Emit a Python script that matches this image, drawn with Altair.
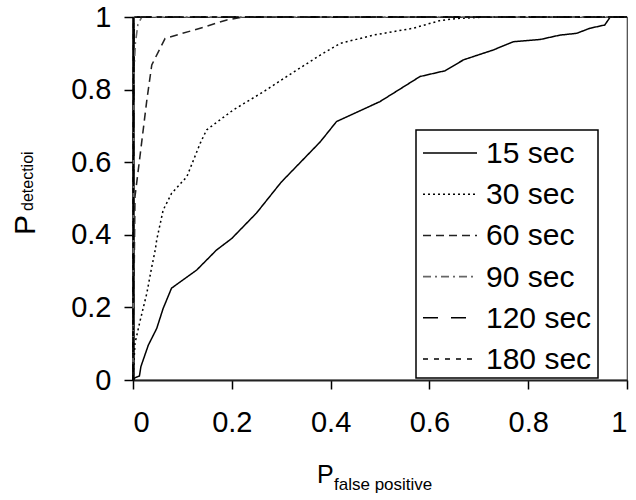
import altair as alt
import pandas as pd

# ROC curves: detection probability vs false-positive probability per window length
series_names = ["15 sec", "30 sec", "60 sec", "90 sec", "120 sec", "180 sec"]

x_15 = [0, 0.004, 0.013, 0.016, 0.031, 0.048, 0.061, 0.078, 0.129, 0.169, 0.20, 0.25, 0.30,
        0.379, 0.412, 0.50, 0.581, 0.632, 0.669, 0.729, 0.770, 0.824, 0.864, 0.898, 0.925,
        0.955, 0.966, 1.0]
y_15 = [0, 0.006, 0.011, 0.037, 0.096, 0.142, 0.197, 0.253, 0.303, 0.358, 0.39, 0.46, 0.545,
        0.656, 0.712, 0.767, 0.836, 0.852, 0.882, 0.909, 0.932, 0.938, 0.950, 0.955, 0.969,
        0.978, 1.0, 1.0]

x_30 = [0, 0.004, 0.014, 0.028, 0.038, 0.045, 0.048, 0.061, 0.078, 0.109, 0.136, 0.149, 0.203,
        0.264, 0.311, 0.379, 0.419, 0.486, 0.567, 0.621, 0.655, 0.716, 1.0]
y_30 = [0, 0.101, 0.161, 0.239, 0.312, 0.358, 0.386, 0.468, 0.514, 0.560, 0.652, 0.689, 0.744,
        0.794, 0.836, 0.895, 0.927, 0.950, 0.969, 0.990, 0.996, 1.0, 1.0]

x_60 = [0, 0.002, 0.004, 0.014, 0.028, 0.038, 0.065, 0.136, 0.190, 0.223, 1.0]
y_60 = [0, 0.25, 0.505, 0.615, 0.771, 0.868, 0.941, 0.969, 0.992, 1.0, 1.0]

x_90 = [0, 0.002, 0.005, 0.010, 0.018, 1.0]
y_90 = [0, 0.85, 0.93, 0.98, 1.0, 1.0]

x_120 = [0, 0.002, 0.006, 1.0]
y_120 = [0, 0.96, 1.0, 1.0]

x_180 = [0, 0.001, 0.004, 1.0]
y_180 = [0, 0.98, 1.0, 1.0]

tick_values = [0, 0.2, 0.4, 0.6, 0.8, 1]

line_colors = ["black", "black", "#222222", "#666666", "black", "black"]
line_dashes = [[1, 0], [2, 3], [8, 5], [8, 4, 2, 4], [15, 13], [5, 6]]
line_widths = [1.5, 1.6, 1.5, 1.5, 3, 1.8]

rows = []
for name, xs, ys in zip(series_names,
                        [x_15, x_30, x_60, x_90, x_120, x_180],
                        [y_15, y_30, y_60, y_90, y_120, y_180]):
    for i, (a, b) in enumerate(zip(xs, ys)):
        rows.append({"series": name, "idx": i, "pfp": a, "pdet": b})
df = pd.DataFrame(rows)

FONT = "Liberation Sans"

color_scale = alt.Scale(domain=series_names, range=line_colors)
dash_scale = alt.Scale(domain=series_names, range=line_dashes)
width_scale = alt.Scale(domain=series_names, range=line_widths)

lines = alt.Chart(df).mark_line(clip=False).encode(
    x=alt.X("pfp:Q", scale=alt.Scale(domain=[0, 1], nice=False),
            axis=alt.Axis(title="", values=tick_values, format="~g", grid=False,
                          tickSize=9, tickColor="black", tickWidth=1.5,
                          domainColor="#222222", domainWidth=2,
                          labelFontSize=29, labelFont=FONT, labelColor="black",
                          labelPadding=19)),
    y=alt.Y("pdet:Q", scale=alt.Scale(domain=[0, 1], nice=False),
            axis=alt.Axis(title="", values=tick_values, format="~g", grid=False,
                          tickSize=9, tickColor="black", tickWidth=1.5,
                          domainColor="black", domainWidth=2.5,
                          labelFontSize=29, labelFont=FONT, labelColor="black",
                          labelPadding=13)),
    color=alt.Color("series:N", scale=color_scale, legend=None),
    strokeDash=alt.StrokeDash("series:N", scale=dash_scale, legend=None),
    strokeWidth=alt.StrokeWidth("series:N", scale=width_scale, legend=None),
    order="idx:Q",
)

# Boxed legend in the lower right of the plot (pixel layout within the plot area)
LEG_LEFT, LEG_RIGHT, LEG_TOP, LEG_BOTTOM = 283, 465, 113, 361
ROW0, ROW_STEP = 136, 41.2
leg_df = pd.DataFrame({
    "series": series_names,
    "ly": [ROW0 + ROW_STEP * i for i in range(len(series_names))],
})

leg_box = alt.Chart(pd.DataFrame({"k": [0]})).mark_rect(
    fill="white", stroke="black", strokeWidth=1.5
).encode(x=alt.value(LEG_LEFT), x2=alt.value(LEG_RIGHT),
         y=alt.value(LEG_TOP), y2=alt.value(LEG_BOTTOM))

leg_sym = alt.Chart(leg_df).mark_rule().encode(
    x=alt.value(290), x2=alt.value(344),
    y=alt.Y("ly:Q", scale=None),
    color=alt.Color("series:N", scale=color_scale, legend=None),
    strokeDash=alt.StrokeDash("series:N", scale=dash_scale, legend=None),
    strokeWidth=alt.StrokeWidth("series:N", scale=width_scale, legend=None),
)

leg_txt = alt.Chart(leg_df).mark_text(
    font=FONT, fontSize=30, align="left", baseline="middle", color="black", dy=1
).encode(x=alt.value(353), y=alt.Y("ly:Q", scale=None), text="series:N")

# Axis titles with subscripts
x_title_main = alt.Chart(pd.DataFrame({"t": ["P"]})).mark_text(
    font=FONT, fontSize=25, align="left", baseline="alphabetic", color="black"
).encode(text="t:N", x=alt.value(184), y=alt.value(466))
x_title_sub = alt.Chart(pd.DataFrame({"t": ["false positive"]})).mark_text(
    font=FONT, fontSize=17, align="left", baseline="alphabetic", color="black"
).encode(text="t:N", x=alt.value(201), y=alt.value(473))

y_title_main = alt.Chart(pd.DataFrame({"t": ["P"]})).mark_text(
    font=FONT, fontSize=30, align="left", baseline="alphabetic", angle=270, color="black"
).encode(text="t:N", x=alt.value(-98), y=alt.value(218))
y_title_sub = alt.Chart(pd.DataFrame({"t": ["detectioi"]})).mark_text(
    font=FONT, fontSize=16, align="left", baseline="alphabetic", angle=270, color="black"
).encode(text="t:N", x=alt.value(-100), y=alt.value(194))

chart = alt.layer(
    lines, leg_box, leg_sym, leg_txt,
    x_title_main, x_title_sub, y_title_main, y_title_sub,
).resolve_scale(y="independent").properties(
    width=494, height=363,
    autosize="none",
    padding={"left": 133, "top": 17, "right": 9, "bottom": 120},
    background="white",
).configure_view(stroke="#444444", strokeWidth=1.2)

chart.save("out.html", embed_options={"renderer": "svg", "actions": False})
